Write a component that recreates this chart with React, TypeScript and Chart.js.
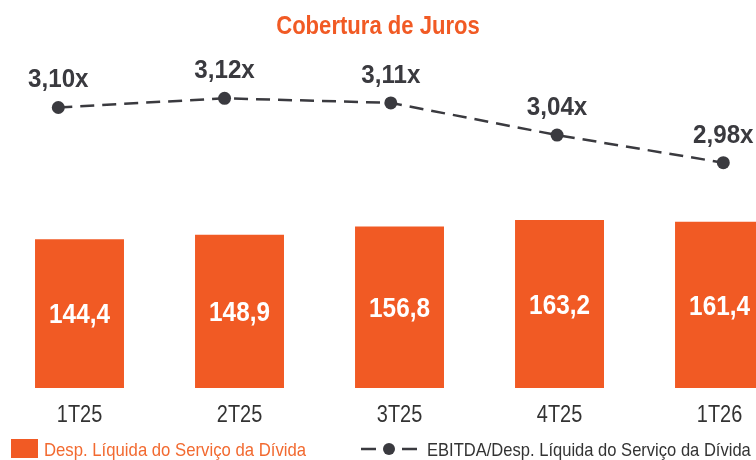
import React, { useEffect, useRef } from 'react';
import { Chart, registerables } from 'chart.js';

Chart.register(...registerables);

const categories = ['1T25', '2T25', '3T25', '4T25', '1T26'];
const despesa = [144.4, 148.9, 156.8, 163.2, 161.4];
const cobertura = [3.1, 3.12, 3.11, 3.04, 2.98];
const titleText = 'Cobertura de Juros';
const barLegend = 'Desp. Líquida do Serviço da Dívida';
const lineLegend = 'EBITDA/Desp. Líquida do Serviço da Dívida';

const ORANGE = '#F15A24';
const DARK = '#3A3A3F';
const FONT = "'Liberation Sans', Arial, sans-serif";

const fmt = (v: number, d: number) => v.toFixed(d).replace('.', ',');

function narrowText(ctx: CanvasRenderingContext2D, text: string, x: number, y: number, sx: number, align: CanvasTextAlign) {
  ctx.save();
  ctx.translate(x, y);
  ctx.scale(sx, 1);
  ctx.textAlign = align;
  ctx.textBaseline = 'alphabetic';
  ctx.fillText(text, 0, 0);
  ctx.restore();
}

const overlay = {
  id: 'overlay',
  afterDatasetsDraw(chart: any) {
    const ctx = chart.ctx as CanvasRenderingContext2D;
    ctx.save();
    const bm = chart.getDatasetMeta(0);
    ctx.fillStyle = '#FFFFFF';
    ctx.font = `bold 27px ${FONT}`;
    bm.data.forEach((el: any, i: number) => {
      narrowText(ctx, fmt(despesa[i], 1), el.x, (el.y + el.base) / 2 + 9.7, 0.9, 'center');
    });
    const lm = chart.getDatasetMeta(1);
    ctx.fillStyle = DARK;
    ctx.font = `bold 26px ${FONT}`;
    lm.data.forEach((el: any, i: number) => {
      narrowText(ctx, fmt(cobertura[i], 2) + 'x', el.x, el.y - 20, 0.93, 'center');
    });
    ctx.restore();
  },
  afterDraw(chart: any) {
    const ctx = chart.ctx as CanvasRenderingContext2D;
    const xs = chart.scales.x;
    const area = chart.chartArea;
    ctx.save();
    // category labels
    ctx.fillStyle = '#333333';
    ctx.font = `24px ${FONT}`;
    categories.forEach((c, i) => {
      narrowText(ctx, c, xs.getPixelForValue(i), area.bottom + 33.7, 0.83, 'center');
    });
    // title
    ctx.fillStyle = ORANGE;
    ctx.font = `bold 25px ${FONT}`;
    narrowText(ctx, titleText, chart.width / 2, 34, 0.883, 'center');
    // legend: bar
    ctx.fillRect(11, 439, 27, 19);
    ctx.font = `19px ${FONT}`;
    ctx.fillStyle = '#F26A30';
    narrowText(ctx, barLegend, 44, 456, 0.88, 'left');
    // legend: line
    ctx.strokeStyle = DARK;
    ctx.lineWidth = 2.5;
    ctx.beginPath();
    ctx.moveTo(361, 449);
    ctx.lineTo(376, 449);
    ctx.moveTo(402, 449);
    ctx.lineTo(417, 449);
    ctx.stroke();
    ctx.fillStyle = DARK;
    ctx.beginPath();
    ctx.arc(389, 449, 6, 0, Math.PI * 2);
    ctx.fill();
    ctx.fillStyle = '#333333';
    narrowText(ctx, lineLegend, 427, 456, 0.871, 'left');
    ctx.restore();
  },
};

export default function App() {
  const ref = useRef<HTMLCanvasElement | null>(null);
  useEffect(() => {
    if (!ref.current) return;
    const chart = new Chart(ref.current, {
      type: 'bar',
      data: {
        datasets: [
          {
            type: 'bar',
            label: barLegend,
            data: despesa.map((y, i) => ({ x: i, y })),
            backgroundColor: ORANGE,
            xAxisID: 'x',
            yAxisID: 'y',
            grouped: false,
            barPercentage: 0.556,
            categoryPercentage: 1,
            order: 2,
          } as any,
          {
            type: 'line',
            label: lineLegend,
            data: cobertura.map((y, i) => ({ x: i, y })),
            borderColor: DARK,
            borderWidth: 2.5,
            borderDash: [14, 8],
            pointRadius: 6.5,
            pointBackgroundColor: DARK,
            pointBorderWidth: 0,
            tension: 0,
            fill: false,
            clip: false,
            xAxisID: 'x2',
            yAxisID: 'y2',
            order: 1,
          } as any,
        ],
      },
      options: {
        responsive: false,
        animation: false,
        devicePixelRatio: 1,
        layout: { autoPadding: false, padding: { top: 50, left: 0, right: 0, bottom: 72 } },
        plugins: {
          legend: { display: false },
          title: { display: false },
          tooltip: { enabled: false },
        },
        scales: {
          x: {
            type: 'linear',
            display: false,
            offset: false,
            min: -0.4969,
            max: 4.228,
            afterBuildTicks: (s: any) => {
              s.ticks = categories.map((_, i) => ({ value: i }));
            },
          },
          x2: {
            type: 'linear',
            display: false,
            offset: false,
            min: -0.3507,
            max: 4.1967,
          },
          y: { display: false, min: 0, max: 328.2 },
          y2: { display: false, min: 2.49, max: 3.225 },
        },
      } as any,
      plugins: [overlay],
    });
    return () => chart.destroy();
  }, []);
  return (
    <div style={{ position: 'absolute', left: 0, top: 0, width: 756, height: 460 }}>
      <canvas ref={ref} width={756} height={460} style={{ width: 756, height: 460 }} />
    </div>
  );
}
